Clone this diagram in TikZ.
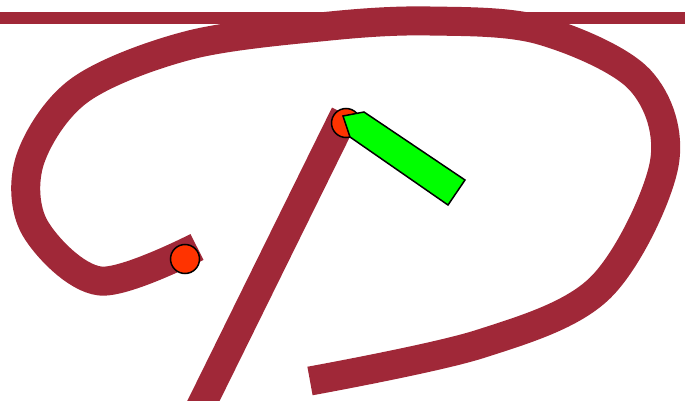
\documentclass[tikz,border=0pt]{standalone}
\usetikzlibrary{positioning}
\definecolor{vinho}{RGB}{160, 40, 56}
\definecolor{vermelho}{RGB}{255, 51, 0}
\definecolor{verdevivo}{RGB}{0, 255, 0}
\tikzset{
  trilha/.style={draw=vinho, line width=29pt},
  barra/.style={draw=vinho, line width=12pt},
  ponto/.style={circle, draw=black, fill=vermelho, line width=1.5pt, inner sep=0pt, minimum size=29pt},
  bandeira/.style={draw=black, fill=verdevivo, line width=1.5pt, line join=miter},
}

\begin{document}
\begin{tikzpicture}[x=1pt, y=-1pt]
\useasboundingbox (0,0) rectangle (685,401);
\clip (0,0) rectangle (685,401);

% faixa de cima
\coordinate (esq) at (0,18);
\coordinate (dir) at (685,18);
\draw[barra] (esq) -- (dir);

% laco grande
\draw[trilha] plot[smooth, tension=0.55] coordinates {
  (310,381) (480,344) (600,288) (664,165) (640,80) (540,30)
  (430,21) (330,26) (190,45) (80,90) (30,160) (35,228)
  (100,281) (197,247)};

% haste reta
\coordinate (base) at (197,414);
\coordinate (topo) at (345,114);
\draw[trilha] (base) -- (topo);

% pontos
\node[ponto] (pontoA) at (185,259) {};
\node[ponto] (pontoB) at (346,123) {};

% bandeira verde
\draw[bandeira] (343,116) -- (364,112) -- (465,180) -- (448,205) -- (350,137) -- cycle;

\end{tikzpicture}
\end{document}
